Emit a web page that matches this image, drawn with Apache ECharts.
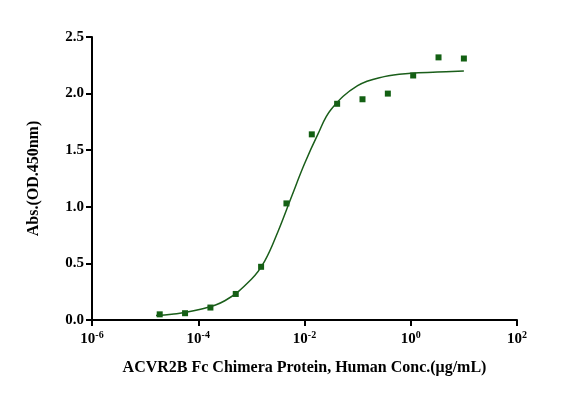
<!DOCTYPE html>
<html><head><meta charset="utf-8">
<script src="https://cdn.jsdelivr.net/npm/echarts@6/dist/echarts.min.js"></script>
<style>html,body{margin:0;padding:0;background:#fff}#c{width:577px;height:406px}</style>
</head><body><div id="c"></div>
<script>
const concs = [10, 3.333, 1.111, 0.3704, 0.1235, 0.04115, 0.01372, 0.004572, 0.001524, 0.000508, 0.0001694, 0.00005645, 0.00001882];
const absVals = [2.31, 2.32, 2.16, 2.00, 1.95, 1.91, 1.64, 1.03, 0.47, 0.23, 0.11, 0.06, 0.05];
const curveX = [1.6e-5, 3.16e-5, 1e-4, 3.16e-4, 1e-3, 1.78e-3, 3.16e-3, 5.6e-3, 1e-2, 1.78e-2, 3.16e-2, 0.1, 0.316, 1, 3.16, 10];
const curveY = [0.04, 0.05, 0.09, 0.17, 0.36, 0.52, 0.78, 1.08, 1.38, 1.64, 1.86, 2.07, 2.15, 2.18, 2.19, 2.20];
const font = 'Liberation Serif';
const chart = echarts.init(document.getElementById('c'));
chart.setOption({
  animation:false,
  grid:{left:92,right:60,top:37,bottom:86},
  xAxis:{type:'log',logBase:10,min:1e-6,max:1e2,interval:2,
    name:'ACVR2B Fc Chimera Protein, Human Conc.(μg/mL)',nameLocation:'middle',nameGap:40,
    nameTextStyle:{fontFamily:font,fontWeight:'bold',fontSize:16,color:'#000'},
    axisLine:{lineStyle:{color:'#000',width:2}},axisTick:{lineStyle:{color:'#000',width:2},length:6},
    minorTick:{show:false},splitLine:{show:false},
    axisLabel:{fontFamily:font,fontWeight:'bold',color:'#000',fontSize:15,margin:10,
      formatter:v=>{const e=Math.round(Math.log10(v));return '10{s|'+e+'}';},
      rich:{s:{fontSize:10,fontFamily:font,fontWeight:'bold',verticalAlign:'top',padding:[0,0,8,0]}}}},
  yAxis:{type:'value',min:0,max:2.5,interval:0.5,
    name:'Abs.(OD.450nm)',nameLocation:'middle',nameGap:50,
    nameTextStyle:{fontFamily:font,fontWeight:'bold',fontSize:16,color:'#000'},
    axisLine:{show:true,lineStyle:{color:'#000',width:2}},axisTick:{show:true,lineStyle:{color:'#000',width:2},length:6},
    splitLine:{show:false},
    axisLabel:{fontFamily:font,fontWeight:'bold',color:'#000',fontSize:15,formatter:v=>v.toFixed(1)}},
  series:[
    {type:'line',data:curveX.map((x,i)=>[x,curveY[i]]),smooth:0.4,showSymbol:false,
     lineStyle:{color:'#1a5e1a',width:1.5}},
    {type:'scatter',data:concs.map((x,i)=>[x,absVals[i]]),symbol:'rect',symbolSize:6,
     itemStyle:{color:'#136013',opacity:1}}
  ]
});
</script></body></html>
